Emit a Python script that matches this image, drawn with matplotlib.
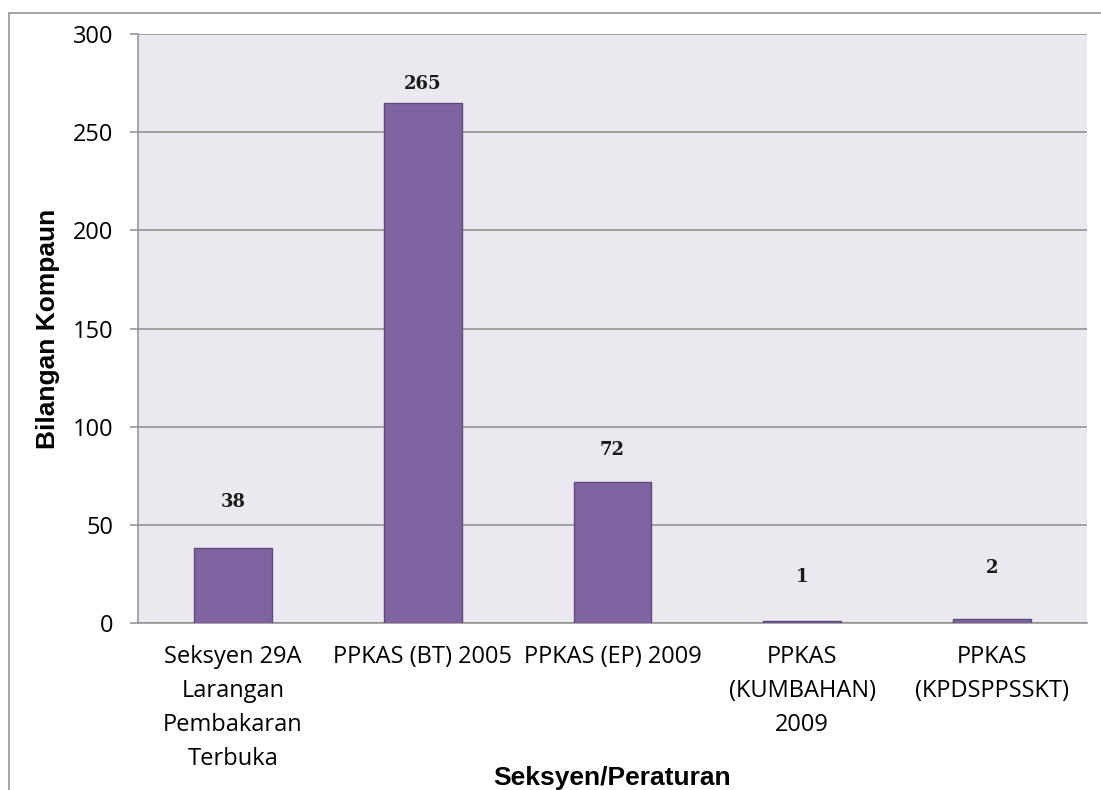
import matplotlib.pyplot as plt
from matplotlib.patches import Rectangle

# --- 数据 ---
categories = [
    'Seksyen 29A\nLarangan\nPembakaran\nTerbuka',
    'PPKAS (BT) 2005',
    'PPKAS (EP) 2009',
    'PPKAS\n(KUMBAHAN)\n2009',
    'PPKAS\n(KPDSPPSSKT)',
]
kompaun = [38, 265, 72, 1, 2]
label_gap = [23.8, 9.7, 16.2, 22.6, 26.1]   # 数值标签离柱顶的距离 (数据单位)
yticks = [0, 50, 100, 150, 200, 250, 300]

# --- 样式 ---
bar_color  = '#8064A2'
edge_color = '#5D4A7C'
plot_bg    = '#EBE9EF'
grid_color = '#8E8E8E'
tick_font  = 'Open Sans'

fig = plt.figure(figsize=(11.01, 7.90), dpi=100)

# 外框 (右侧和底部超出画面)
fig.patches.append(Rectangle((9 / 1101, -0.1), 1.2, 1 - 13 / 790 + 0.1,
                             transform=fig.transFigure, fill=False,
                             edgecolor='#8A8A8A', linewidth=1.1))

ax = fig.add_axes([138 / 1101, 1 - 623 / 790, 949 / 1101, 589 / 790])
ax.set_facecolor(plot_bg)

x = range(len(categories))
ax.bar(x, kompaun, width=0.41, color=bar_color, edgecolor=edge_color,
       linewidth=1.0, zorder=3)

for xi, v, g in zip(x, kompaun, label_gap):
    ax.text(xi, v + g, str(v), ha='center', va='center',
            fontfamily='DejaVu Serif', fontweight='bold', fontsize=13,
            color='#1a1a1a', zorder=4)

ax.set_xlim(-0.5, len(categories) - 0.5)
ax.set_ylim(0, 300)
ax.set_yticks(yticks)
ax.yaxis.grid(True, color=grid_color, linewidth=1.1, zorder=1)
ax.set_axisbelow(True)

for side in ['top', 'right']:
    ax.spines[side].set_visible(False)
for side in ['left', 'bottom']:
    ax.spines[side].set_color(grid_color)
    ax.spines[side].set_linewidth(1.1)

ax.tick_params(axis='y', length=6, width=1.1, color=grid_color, pad=12,
               labelsize=17)
ax.tick_params(axis='x', length=0, pad=16, labelsize=17)
ax.set_xticks(list(x))
ax.set_xticklabels(categories, linespacing=1.55)
for lab in ax.get_xticklabels() + ax.get_yticklabels():
    lab.set_fontfamily(tick_font)

ax.set_ylabel('Bilangan Kompaun', fontfamily='Liberation Sans',
              fontweight='bold', fontsize=19)
ax.yaxis.set_label_coords(-0.0948, 0.5)
ax.yaxis.label.set_va('center')

ax.set_xlabel('Seksyen/Peraturan', fontfamily='Liberation Sans',
              fontweight='bold', fontsize=19)
ax.xaxis.set_label_coords(0.5, -0.263)
ax.xaxis.label.set_va('center')

plt.savefig('out.png', dpi=100)
